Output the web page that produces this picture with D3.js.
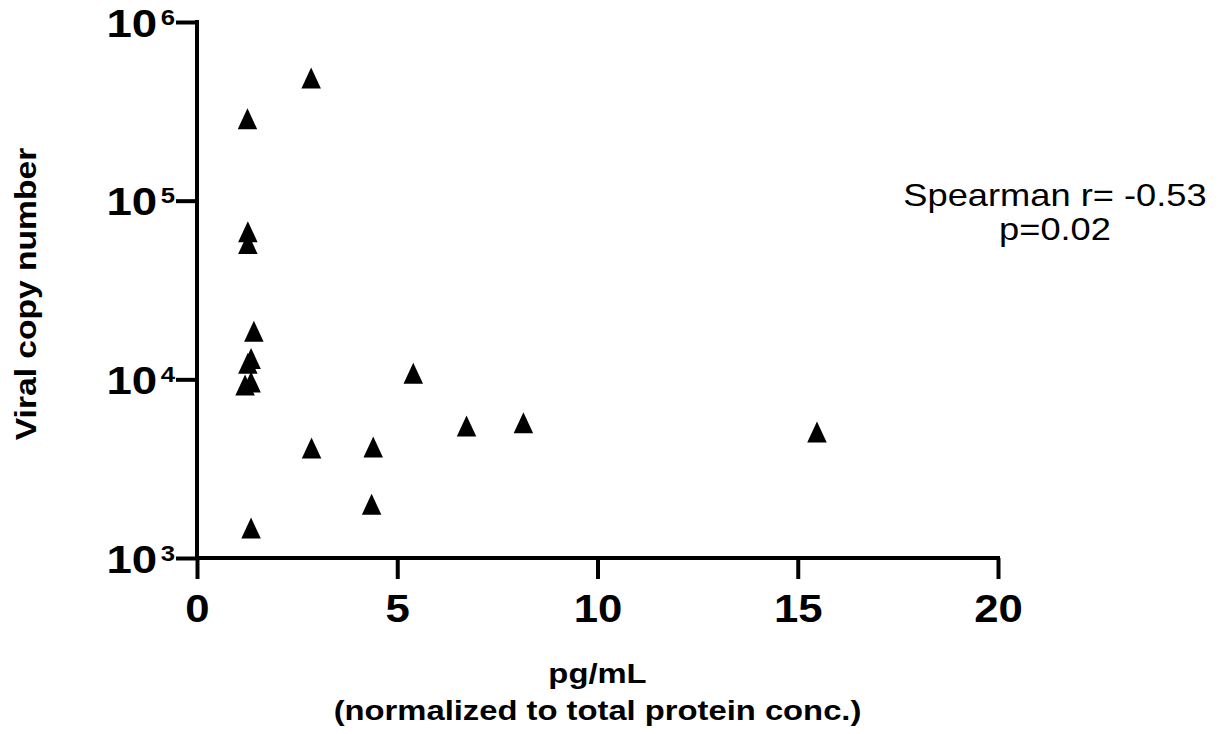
<!DOCTYPE html>
<html lang="en">
<head>
<meta charset="utf-8">
<title>Viral copy number vs pg/mL</title>
<style>
  body { margin: 0; background: #fff; }
  text { font-family: "Liberation Sans", Arial, Helvetica, sans-serif; fill: #000; }
</style>
</head>
<body>
<svg id="chart" width="1227" height="734"></svg>
<script src="https://d3js.org/d3.v7.min.js"></script>
<script>
// data (x = pg/mL normalized, y = viral copy number)
var pgml   = [2.85, 1.26, 1.27, 1.27, 1.42, 1.35, 1.27, 1.20, 1.35, 1.35, 2.86, 4.40, 4.36, 5.40, 6.73, 8.15, 15.48];
var copies = [4.86e5, 2.87e5, 6.7e4, 5.76e4, 1.86e4, 1.31e4, 1.23e4, 9.3e3, 9.66e3, 1.47e3, 4.13e3, 4.18e3, 2.0e3, 1.08e4, 5.48e3, 5.71e3, 5.07e3];

var xTicks = [0, 5, 10, 15, 20];
var yTicks = [1e3, 1e4, 1e5, 1e6];
var statLines = ["Spearman r= -0.53", "p=0.02"];
var xTitle = ["pg/mL", "(normalized to total protein conc.)"];
var yTitle = "Viral copy number";

// the original font is a bit wider than Arial, so text gets stretched sideways
var WIDE = 1.17;

var svg = d3.select("#chart");

var x = d3.scaleLinear().domain([0, 20]).range([197, 998]);
var y = d3.scaleLog().domain([1e3, 1e6]).range([558, 22]);

//x axis
var gx = svg.append("g")
    .attr("transform", "translate(0," + y(1e3) + ")")
    .call(d3.axisBottom(x).tickValues(xTicks).tickSize(21).tickPadding(16));
gx.select(".domain").attr("stroke-width", 4).attr("d", "M" + (x(0) - 2) + ",0H" + (x(20) + 2));
gx.selectAll(".tick line").attr("stroke-width", 4);
gx.selectAll(".tick text")
    .attr("font-size", 38).attr("font-weight", "bold")
    .attr("font-family", "Liberation Sans, Arial, sans-serif")
    .attr("transform", "scale(1.15,1)");

//y axis
var gy = svg.append("g")
    .attr("transform", "translate(" + x(0) + ",0)")
    .call(d3.axisLeft(y).tickValues(yTicks).tickSize(21).tickFormat(""));
gy.select(".domain").attr("stroke-width", 4).attr("d", "M0," + (y(1e6) - 2) + "V" + (y(1e3) + 2));
gy.selectAll(".tick line").attr("stroke-width", 4);

//y tick labels as 10 with a superscript exponent
var ylab = gy.selectAll(".tick").append("text")
    .attr("transform", "translate(-22,0) scale(" + WIDE + ",1)")
    .attr("y", 14)
    .attr("text-anchor", "end")
    .attr("font-weight", "bold")
    .attr("font-size", 39);
ylab.append("tspan").text("10");
ylab.append("tspan")
    .attr("font-size", 22)
    .attr("dx", 3)
    .attr("dy", -12)
    .text(function (d) { return Math.round(Math.log10(d)); });

//points as triangles
var tri = "M0,-10.5L9.75,10.5L-9.75,10.5Z";
svg.append("g").selectAll("path")
    .data(pgml)
    .join("path")
    .attr("d", tri)
    .attr("fill", "#000")
    .attr("transform", function (d, i) { return "translate(" + x(d) + "," + y(copies[i]) + ")"; });

//axis titles
svg.append("text")
    .attr("transform", "translate(36,294) rotate(-90) scale(1.12,1)")
    .attr("text-anchor", "middle")
    .attr("font-weight", "bold")
    .attr("font-size", 30)
    .text(yTitle);

svg.selectAll(".xtitle")
    .data(xTitle)
    .join("text")
    .attr("class", "xtitle")
    .attr("transform", function (d, i) {
        return "translate(" + ((x(0) + x(20)) / 2) + "," + (683 + i * 37) + ") scale(" + WIDE + ",1)";
    })
    .attr("text-anchor", "middle")
    .attr("font-weight", "bold")
    .attr("font-size", 28)
    .text(function (d) { return d; });

//stats annotation
svg.selectAll(".stat")
    .data(statLines)
    .join("text")
    .attr("class", "stat")
    .attr("transform", function (d, i) {
        return "translate(1055," + (206 + i * 34) + ") scale(" + WIDE + ",1)";
    })
    .attr("text-anchor", "middle")
    .attr("font-size", 31)
    .text(function (d) { return d; });
</script>
</body>
</html>
